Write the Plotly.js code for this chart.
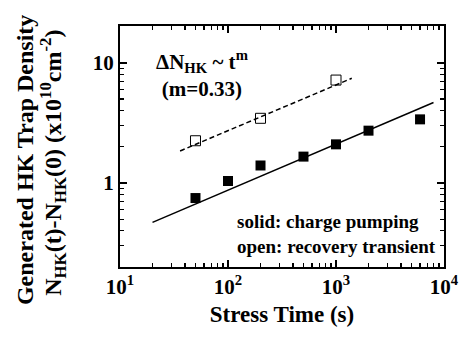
<!DOCTYPE html>
<html><head><meta charset="utf-8">
<script src="https://cdn.plot.ly/plotly-3.0.1.min.js"></script>
<style>html,body{margin:0;padding:0;background:#fff}#chart{width:464px;height:338px}</style>
</head><body><div id="chart"></div>
<script>
// Charge-pumping data (solid squares)
const stressTimeCP = [50, 100, 200, 500, 1000, 2000, 6000];
const densityCP = [0.75, 1.04, 1.40, 1.66, 2.10, 2.73, 3.39];
// Recovery-transient data (open squares)
const stressTimeRT = [50, 200, 1000];
const densityRT = [2.25, 3.46, 7.2];
// Power-law fit lines
const fitTimeCP = [20, 8000];
const fitDensityCP = [0.47, 4.68];
const fitTimeRT = [36, 1400];
const fitDensityRT = [1.85, 7.45];
// Axis ticks
const xTickVals = [10, 100, 1000, 10000];
const xTickText = ['10<sup>1</sup>', '10<sup>2</sup>', '10<sup>3</sup>', '10<sup>4</sup>'];
const yTickVals = [1, 10];
const yTickText = ['1', '10'];

function minorLogTicks(lo, hi) {
  const v = [];
  for (let d = lo; d < hi; d *= 10) for (let k = 2; k <= 9; k++) v.push(d * k);
  return v;
}

const FONT = 'Liberation Serif, Times New Roman, serif';

const traces = [
  {x: fitTimeCP, y: fitDensityCP, mode: 'lines', line: {color: '#000', width: 1.5}, hoverinfo: 'skip'},
  {x: fitTimeRT, y: fitDensityRT, mode: 'lines', line: {color: '#000', width: 1.5, dash: '5px,3px'}, hoverinfo: 'skip'},
  {x: stressTimeCP, y: densityCP, mode: 'markers', marker: {symbol: 'square', size: 10, color: '#000'}},
  {x: stressTimeRT, y: densityRT, mode: 'markers', marker: {symbol: 'square-open', size: 10, color: '#000', line: {width: 1}}}
];

const axisCommon = {
  showline: true, linecolor: '#000', linewidth: 2, mirror: 'ticks',
  ticks: 'inside', ticklen: 7, tickwidth: 1.5, tickcolor: '#000',
  showgrid: false, zeroline: false, tickmode: 'array',
  tickfont: {family: FONT, size: 21, color: '#000', weight: 'bold'}
};

const layout = {
  width: 464, height: 338,
  margin: {l: 120, r: 20, t: 26, b: 71},
  paper_bgcolor: '#fff', plot_bgcolor: '#fff',
  showlegend: false,
  font: {family: FONT, color: '#000', weight: 'bold'},
  xaxis: Object.assign({}, axisCommon, {
    type: 'log', range: [1, 4],
    tickvals: xTickVals, ticktext: xTickText,
    minor: {tickvals: minorLogTicks(10, 10000), ticks: 'inside', ticklen: 4, tickwidth: 1.2, tickcolor: '#000', showgrid: false},
    title: {text: 'Stress Time (s)', font: {family: FONT, size: 23, color: '#000', weight: 'bold'}, standoff: 8}
  }),
  yaxis: Object.assign({}, axisCommon, {
    type: 'log', range: [Math.log10(0.2), Math.log10(20.3)],
    tickvals: yTickVals, ticktext: yTickText,
    minor: {tickvals: minorLogTicks(0.1, 100).filter(v => v >= 0.2 && v <= 20), ticks: 'inside', ticklen: 4, tickwidth: 1.2, tickcolor: '#000', showgrid: false}
  }),
  annotations: [
    {xref: 'paper', yref: 'paper', x: -0.293, y: 0.444, textangle: -90, showarrow: false,
     xanchor: 'center', yanchor: 'middle',
     text: 'Generated HK Trap Density', font: {family: FONT, size: 24, color: '#000', weight: 'bold'}},
    {xref: 'paper', yref: 'paper', x: -0.207, y: 0.432, textangle: -90, showarrow: false,
     xanchor: 'center', yanchor: 'middle',
     text: 'N<sub>HK</sub>(t)-N<sub>HK</sub>(0) (x10<sup>10</sup>cm<sup>-2</sup>)', font: {family: FONT, size: 24, color: '#000', weight: 'bold'}},
    {xref: 'paper', yref: 'paper', x: 0.253, y: 0.80, showarrow: false,
     xanchor: 'center', yanchor: 'middle', align: 'center',
     text: '\u0394N<sub>HK</sub> ~ t<sup>m</sup><br>(m=0.33)', font: {family: FONT, size: 21, color: '#000', weight: 'bold'}},
    {xref: 'paper', yref: 'paper', x: 0.355, y: 0.139, showarrow: false,
     xanchor: 'left', yanchor: 'middle', align: 'left',
     text: 'solid: charge pumping<br>open: recovery transient', font: {family: FONT, size: 19, color: '#000', weight: 'bold'}}
  ]
};

Plotly.newPlot('chart', traces, layout, {staticPlot: true, displayModeBar: false});
</script>
</body></html>
